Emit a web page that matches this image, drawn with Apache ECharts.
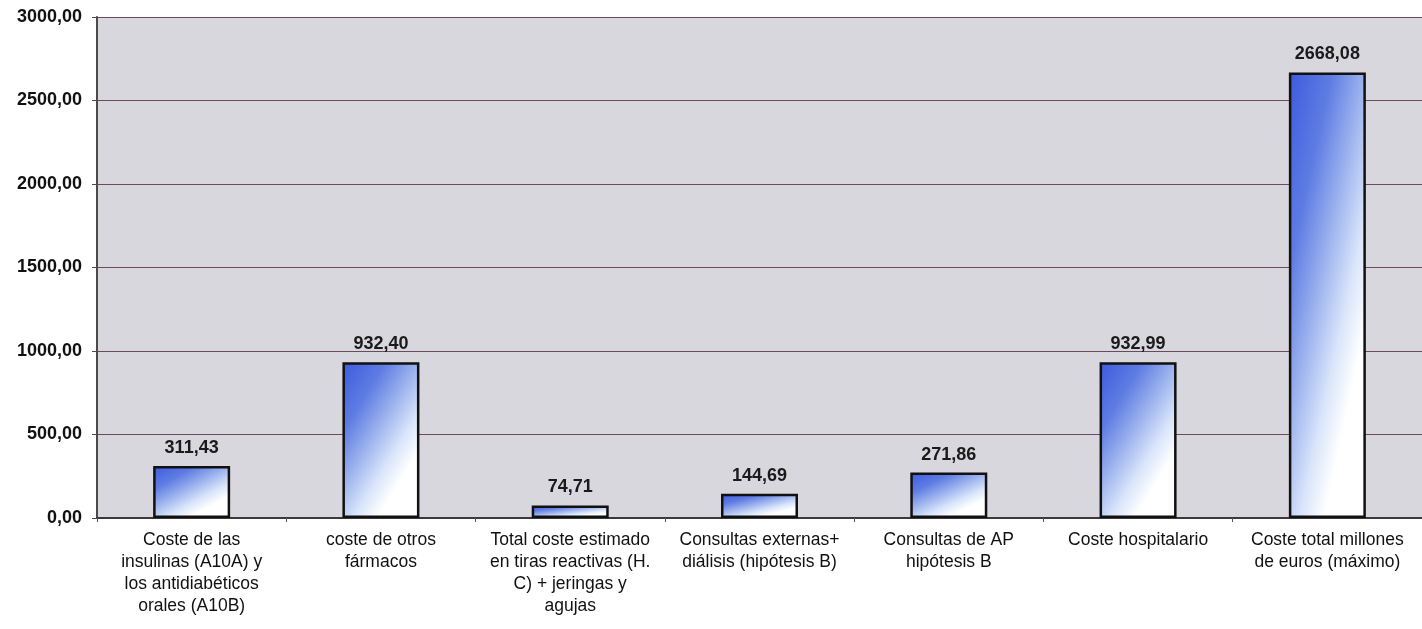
<!DOCTYPE html>
<html>
<head>
<meta charset="utf-8">
<script src="https://cdn.jsdelivr.net/npm/echarts@6/dist/echarts.min.js"></script>
<style>
  html, body { margin: 0; padding: 0; background: #ffffff; }
  #chart { width: 1422px; height: 629px; }
</style>
</head>
<body>
<div id="chart"></div>
<script>
// Cost categories (millions of euros)
const categories = [
  'Coste de las\ninsulinas (A10A) y\nlos antidiabéticos\norales (A10B)',
  'coste de otros\nfármacos',
  'Total coste estimado\nen tiras reactivas (H.\nC) + jeringas y\nagujas',
  'Consultas externas+\ndiálisis (hipótesis B)',
  'Consultas de AP\nhipótesis B',
  'Coste hospitalario',
  'Coste total millones\nde euros (máximo)'
];
const costs = [311.43, 932.40, 74.71, 144.69, 271.86, 932.99, 2668.08];

const BAR_WIDTH = 77;
const FONT = 'Liberation Sans, Arial, sans-serif';
const fmt = v => v.toFixed(2).replace('.', ',');

// Corner shading: colour follows (ALPHA*u + v) inside each bar's own box,
// blue in the top-left corner fading to white towards the bottom-right.
const ALPHA = 0.8;
function cornerFill(w, h) {
  const k = (1 + ALPHA) / (ALPHA * ALPHA / (w * w) + 1 / (h * h));
  const a = k * ALPHA / (w * w);
  const b = k / (h * h);
  return new echarts.graphic.LinearGradient(0, 0, a, b, [
    { offset: 0.00, color: '#3c5ade' },
    { offset: 0.25, color: '#5f7ce3' },
    { offset: 0.45, color: '#9fb5ee' },
    { offset: 0.62, color: '#d9e5fa' },
    { offset: 0.76, color: '#ffffff' },
    { offset: 1.00, color: '#ffffff' }
  ]);
}

const chart = echarts.init(document.getElementById('chart'), null, { renderer: 'canvas' });

function buildOption(barData) {
  return {
    backgroundColor: '#ffffff',
    animation: false,
    grid: {
      left: 97, right: 0, top: 17, bottom: 111,
      show: true, backgroundColor: '#d7d7dd', borderWidth: 0
    },
    xAxis: {
      type: 'category',
      data: categories,
      axisLine: { lineStyle: { color: '#3a3a3a', width: 2 } },
      axisTick: { show: true, alignWithLabel: false, length: 4, lineStyle: { color: '#555555' } },
      axisLabel: {
        interval: 0, color: '#111111', fontFamily: FONT, fontSize: 17.5,
        lineHeight: 22, margin: 11
      }
    },
    yAxis: {
      type: 'value', min: 0, max: 3000, interval: 500,
      axisLine: { show: true, lineStyle: { color: '#4a4a4a', width: 2 } },
      axisTick: { show: true, length: 5, lineStyle: { color: '#4a4a4a' } },
      axisLabel: {
        formatter: fmt, color: '#111111', fontFamily: FONT,
        fontSize: 18, fontWeight: 'bold', margin: 15
      },
      splitLine: { show: true, lineStyle: { color: '#6b4a5c', width: 1.2 } }
    },
    series: [{
      type: 'bar',
      data: barData,
      barWidth: BAR_WIDTH,
      itemStyle: { borderColor: '#111111', borderWidth: 2.5, color: '#6f89e6' },
      label: {
        show: true, position: 'top', distance: 9,
        formatter: p => fmt(p.value),
        color: '#1a1a1a', fontFamily: FONT, fontSize: 18, fontWeight: 'bold'
      }
    }]
  };
}

chart.setOption(buildOption(costs));

// Bar heights in pixels come from the value axis scale.
const zeroY = chart.convertToPixel({ gridIndex: 0 }, [0, 0])[1];
const shaded = costs.map((v, i) => {
  const h = Math.max(1, zeroY - chart.convertToPixel({ gridIndex: 0 }, [i, v])[1]);
  return { value: v, itemStyle: { color: cornerFill(BAR_WIDTH, h) } };
});
chart.setOption(buildOption(shaded));
</script>
</body>
</html>
